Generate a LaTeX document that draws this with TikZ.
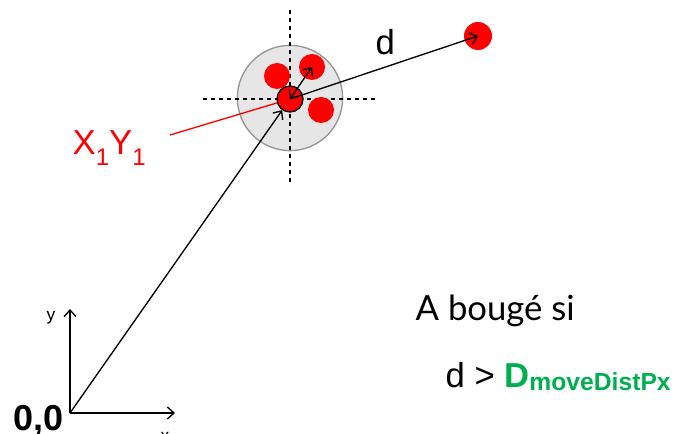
\documentclass[tikz,border=0pt]{standalone}
\usepackage{fontspec}
\setmainfont{Liberation Sans}
\newfontfamily\humfont{Lato}
\usepackage{tikz}
\usetikzlibrary{arrows.meta}

\definecolor{movegreen}{RGB}{0,176,80}
\definecolor{zonefill}{RGB}{230,230,230}
\definecolor{zoneline}{RGB}{150,150,150}

\tikzset{
  dot/.style={circle, fill=red, inner sep=0pt, minimum size=19.5pt},
}

\begin{document}
\begin{tikzpicture}[>={Straight Barb[length=5pt,width=9pt]}, x=0.75pt, y=-0.75pt, line width=1pt]
\useasboundingbox (0,0) rectangle (677,434);
% zone autour de la position
\node[circle, fill=zonefill, draw=zoneline, minimum size=79pt, inner sep=0pt] (zone) at (290,98) {};
\draw[dashed] (290,10) -- (290,185);
\draw[dashed] (203,99) -- (378,99);
\node[dot] (p1) at (277,76) {};
\node[dot] (p2) at (312,67) {};
\node[dot] (p3) at (321,110) {};
\node[dot, draw=black] (c0) at (290,99) {};
\node[dot, minimum size=21pt] (far) at (478,36) {};
% repere
\coordinate (o) at (70,413);
\coordinate (ytip) at (70,309);
\coordinate (xtip) at (175,413);
\draw[->] (o) -- (ytip);
\draw[->] (o) -- (xtip);
\node (ylbl) at (51,318) {\fontsize{13}{15}\selectfont y};
\node[anchor=base] (xlbl) at (165,441) {\fontsize{13}{15}\selectfont x};
\node[anchor=base west, inner sep=0pt] (orig) at (13,430) {\fontsize{27}{30}\selectfont\bfseries 0,0};
% vecteurs
\draw[->] (o) -- (c0);
\draw[->] (c0.center) -- (far.center);
\draw[<->] (c0.center) -- (p2.center);
\node[anchor=base west, inner sep=0pt] (dlbl) at (375,55) {\fontsize{26}{30}\selectfont d};
% position X1Y1
\node[anchor=base west, inner sep=0pt, text=red] (xy) at (72,155)
  {\fontsize{26}{30}\selectfont X\raisebox{-0.3em}{\fontsize{18}{20}\selectfont 1}Y\raisebox{-0.3em}{\fontsize{18}{20}\selectfont 1}};
\coordinate (xyend) at (170,135);
\draw[red] (xyend) -- (c0);
% condition
\node[anchor=base west, inner sep=0pt] (moved) at (415,320) {\fontsize{26}{30}\selectfont\humfont A bougé si};
\node[anchor=base west, inner sep=0pt] (cond) at (445,387)
  {\fontsize{26}{30}\selectfont d > \textcolor{movegreen}{\bfseries D\raisebox{-0.1em}{\fontsize{18.5}{20}\selectfont moveDistPx}}};
\end{tikzpicture}
\end{document}
